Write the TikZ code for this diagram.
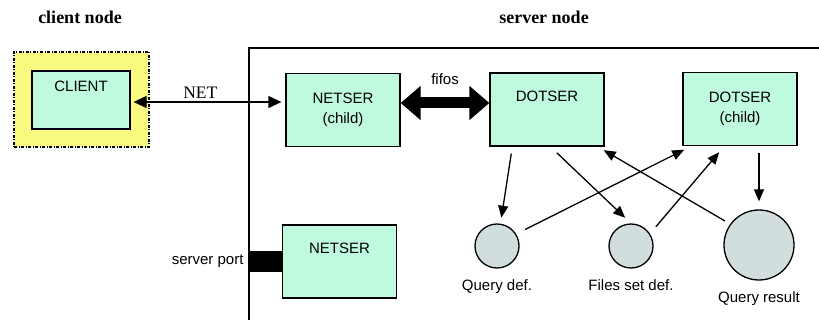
\documentclass[tikz,border=0pt]{standalone}
\usepackage{fontspec}
\setmainfont{Liberation Serif}
\setsansfont{Liberation Sans}
\usepackage{tikz}
\usetikzlibrary{arrows.meta}
\definecolor{mint}{RGB}{192,250,222}
\definecolor{lemon}{RGB}{250,250,128}
\definecolor{store}{RGB}{210,222,222}
\newcommand{\arial}{\sffamily\fontsize{15}{20}\selectfont}

\tikzset{
  procbox/.style={draw, line width=1.3pt, fill=mint, align=center, font=\arial,
    minimum width=114pt, minimum height=73pt, inner sep=0pt},
  datastore/.style={draw, line width=1.3pt, fill=store, circle, inner sep=0pt},
  storelabel/.style={font=\arial, yshift=-7pt},
  flow/.style={line width=1.3pt, -{Triangle[length=12pt,width=10pt]}},
}

\begin{document}
\begin{tikzpicture}[x=1pt, y=-1pt]
\useasboundingbox (0,0) rectangle (819,320);

% headers
\node[font=\bfseries\fontsize{18}{20}\selectfont] (hclient) at (80,17) {client node};
\node[font=\bfseries\fontsize{18}{20}\selectfont] (hserver) at (544,17) {server node};

% client side
\node[draw, line width=1.5pt, fill=lemon, dash pattern=on 3pt off 1.5pt on 1pt off 1.5pt,
  minimum width=135pt, minimum height=95pt] (clientbox) at (81.5,99.5) {};
\node[procbox, minimum width=98pt, minimum height=58pt] (client) at (81,100) {CLIENT\\[2pt]\strut};

% server frame
\draw[line width=2pt] (249,320) -- (249,48) -- (819,48);

\node[procbox] (netchild) at (343,110) {NETSER\\(child)};
\node[procbox] (dotser) at (547,109.5) {DOTSER\\\strut};
\node[procbox] (dotchild) at (740,109) {DOTSER\\(child)};
\node[procbox] (netser) at (339.5,261.5) {NETSER\\\strut};

\node[datastore, minimum size=44pt, label={[storelabel]below:Query def.}] (qdef) at (497,246) {};
\node[datastore, minimum size=44pt, label={[storelabel]below:Files set def.}] (fsdef) at (631,246) {};
\node[datastore, minimum size=70pt, label={[storelabel]below:Query result}] (qres) at (759,245) {};

% network links
\draw[line width=1.3pt, {Triangle[length=13pt,width=12pt]}-{Triangle[length=13pt,width=12pt]},
  shorten <=3pt, shorten >=4pt]
  ([yshift=-2pt]client.east) -- ([yshift=-2pt]client.east -| netchild.west)
  node[above, pos=0.45, font=\fontsize{17.5}{20}\selectfont] {NET};
\draw[line width=11pt, {Triangle[length=20pt,width=33pt]}-{Triangle[length=20pt,width=33pt]}]
  ([yshift=7pt]netchild.east) -- ([yshift=7pt]netchild.east -| dotser.west)
  node[above=10pt, midway, font=\arial] {fifos};

\coordinate[label={[font=\arial, label distance=3pt]left:server port}] (port) at (250,261.5);
\draw[line width=21pt] (port) -- (netser.west);

% data flow
\draw[flow, shorten <=7pt, shorten >=6pt] ([xshift=23pt]dotser.south west) -- (qdef);
\draw[flow, shorten <=9pt, shorten >=8pt] ([xshift=61pt]dotser.south west) -- (fsdef.north);
\draw[flow, shorten <=6pt, shorten >=7pt] (qres.144) -- ([xshift=-7pt]dotser.south east);
\draw[flow, shorten <=10pt, shorten >=8pt] (qdef.32) -- ([xshift=9pt]dotchild.south west);
\draw[flow, shorten <=9pt, shorten >=8pt] (fsdef.33) -- ([xshift=42pt]dotchild.south west);
\draw[flow, shorten <=7pt, shorten >=8pt] (dotchild.south -| qres.north) -- (qres.north);

\end{tikzpicture}
\end{document}
